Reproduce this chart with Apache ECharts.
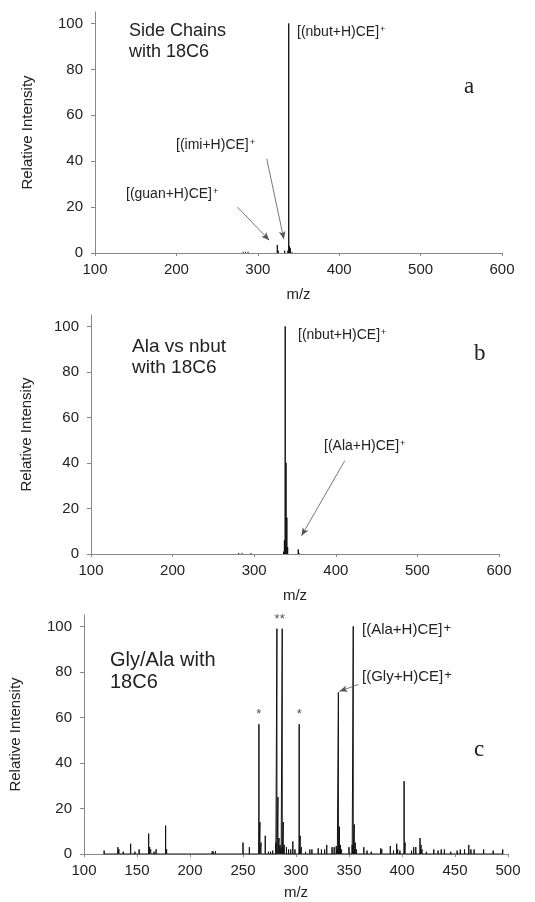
<!DOCTYPE html>
<html>
<head>
<meta charset="utf-8">
<script src="https://cdn.jsdelivr.net/npm/echarts@6/dist/echarts.min.js"></script>
<style>
  html, body { margin: 0; padding: 0; background: #fff; }
  #chart { width: 535px; height: 902px; }
</style>
</head>
<body>
<div id="chart"></div>
<script>
// peaks as [m/z, relative intensity]
const peaksA = [
  [282, 0.6], [285, 0.5], [288, 0.6], [300, 0.3], [324, 3.5], [325, 1],
  [333, 1], [337, 1], [338, 100], [339, 3], [340, 2], [342, 0.5], [350, 0.3], [370, 0.3]
];
const peaksB = [
  [281, 0.5], [285, 0.5], [296, 0.4], [336, 1], [337, 6], [338, 100],
  [339, 40], [340, 16], [341, 3], [354, 2], [355, 0.5]
];
const peaksC = [
  [119, 1.5], [132, 3], [133, 2], [137, 1], [144, 4.5], [148, 1], [152, 2],
  [161, 9], [162, 3], [163, 2], [166, 1], [168, 2], [177, 12.5], [178, 2], [184, 0.5],
  [221, 1.2], [222, 1], [224, 1.2], [250, 5], [256, 3],
  [265, 57], [266, 14], [267, 5], [271, 8], [274, 1], [276, 1], [278, 1.5],
  [281, 5], [282, 99], [283, 25], [284, 7], [285, 4], [286, 3],
  [287, 99], [288, 14], [289, 4], [291, 3], [293, 2], [295, 2], [297, 5.5], [299, 2],
  [303, 57], [304, 8], [305, 3], [309, 1], [313, 2], [315, 2],
  [321, 2.5], [324, 2], [327, 2], [329, 4], [334, 3], [336, 3], [338, 3.5], [339, 2],
  [340, 71], [341, 12], [342, 4], [343, 2], [350, 3],
  [353, 4], [354, 100], [355, 13], [356, 5], [357, 2],
  [364, 3], [367, 1.5], [371, 1], [380, 2.5], [381, 2], [389, 3.5], [392, 1.5],
  [395, 4.5], [396, 2], [398, 1.5], [402, 32], [403, 5],
  [409, 1.5], [411, 3], [413, 3], [417, 7], [418, 4], [419, 2], [423, 1],
  [430, 2], [434, 1.5], [437, 2], [440, 2], [446, 1], [452, 1.5], [455, 2],
  [459, 2], [463, 4], [465, 2], [468, 2], [477, 2], [486, 1.5], [495, 2]
];
const starredC = [[265, 57], [282, 99], [287, 99], [303, 57]];

const yTicks = [0, 20, 40, 60, 80, 100];
const xTicksAB = [100, 200, 300, 400, 500, 600];
const xTicksC = [100, 150, 200, 250, 300, 350, 400, 450, 500];

// arrows: [[from m/z, from int], [to m/z, to int]]
const arrowsA = [[[275, 20], [314, 5.6]], [[311, 41], [332, 6]]];
const arrowsB = [[[411, 41], [358, 8]]];
const arrowsC = [[[359, 74.5], [341, 71.5]]];

// each peak is a stick from the baseline; split=true leaves gaps between sticks
function sticks(peaks, split) {
  const pts = [];
  peaks.forEach(p => {
    pts.push([p[0], 0], [p[0], p[1]], [p[0], 0]);
    if (split) pts.push([p[0], '-']);
  });
  return pts;
}

const font = 'Liberation Sans';
const axisColor = '#888';
const textColor = '#222';

function xAxis(i, min, max, interval, ticks, nameGap) {
  return {
    gridIndex: i, type: 'value', min: min, max: max, interval: interval,
    name: 'm/z', nameLocation: 'middle', nameGap: nameGap,
    nameTextStyle: { fontFamily: font, fontSize: 15, color: textColor },
    axisLine: { lineStyle: { color: axisColor, width: 1 } },
    axisTick: { show: true, length: 3, lineStyle: { color: axisColor } },
    axisLabel: { fontFamily: font, fontSize: 15, color: textColor, margin: 9, customValues: ticks },
    splitLine: { show: false }
  };
}

function yAxis(i, nameGap) {
  return {
    gridIndex: i, type: 'value', min: 0, max: 105,
    name: 'Relative Intensity', nameLocation: 'middle', nameGap: nameGap,
    nameTextStyle: { fontFamily: font, fontSize: 15, color: textColor },
    axisLine: { show: true, lineStyle: { color: axisColor, width: 1 } },
    axisTick: { show: true, length: 4, lineStyle: { color: axisColor }, customValues: yTicks },
    axisLabel: { fontFamily: font, fontSize: 15, color: textColor, margin: 12, customValues: yTicks },
    splitLine: { show: false }
  };
}

function arrowLines(arrows) {
  return {
    silent: true,
    symbol: ['none', 'arrow'],
    symbolSize: [5, 8],
    lineStyle: { color: '#555', width: 0.8, type: 'solid' },
    label: { show: false },
    emphasis: { disabled: true },
    data: arrows.map(a => [{ coord: a[0] }, { coord: a[1] }])
  };
}

function spectrum(i, peaks, arrows, split) {
  return {
    type: 'line', xAxisIndex: i, yAxisIndex: i,
    data: sticks(peaks, split), symbol: 'none', animation: false,
    connectNulls: false,
    lineStyle: { color: '#111', width: 1 },
    markLine: arrowLines(arrows)
  };
}

function ion(left, top, name, size, supSize) {
  return {
    type: 'text', left: left, top: top,
    style: {
      text: '{a|' + name + '}{s|+}',
      rich: {
        a: { fontFamily: font, fontSize: size, fill: textColor },
        s: { fontFamily: font, fontSize: supSize, fill: textColor, verticalAlign: 'top', padding: [0, 0, 0, 1] }
      }
    }
  };
}

function title(left, top, text, size, lh) {
  return {
    type: 'text', left: left, top: top,
    style: { text: text, fontFamily: font, fontSize: size, lineHeight: lh, fill: textColor }
  };
}

function letter(left, top, text) {
  return {
    type: 'text', left: left, top: top,
    style: { text: text, fontFamily: 'Liberation Serif', fontSize: 23, fill: textColor }
  };
}

const option = {
  backgroundColor: '#fff',
  animation: false,
  grid: [
    { left: 95, right: 33, top: 12, height: 241 },
    { left: 91, right: 36, top: 315, height: 239 },
    { left: 84, right: 27, top: 615, height: 239 }
  ],
  xAxis: [
    xAxis(0, 100, 600, 100, xTicksAB, 34),
    xAxis(1, 100, 600, 100, xTicksAB, 34),
    xAxis(2, 100, 500, 50, xTicksC, 31)
  ],
  yAxis: [yAxis(0, 60), yAxis(1, 57), yAxis(2, 61)],
  series: [
    spectrum(0, peaksA, arrowsA, true),
    spectrum(1, peaksB, arrowsB, true),
    spectrum(2, peaksC, arrowsC, false),
    {
      type: 'scatter', xAxisIndex: 2, yAxisIndex: 2,
      data: starredC, symbolSize: 0, silent: true,
      label: { show: true, formatter: '*', position: 'top', distance: 3, fontFamily: font, fontSize: 13, color: textColor }
    }
  ],
  graphic: [
    title(129, 21, 'Side Chains\nwith 18C6', 18, 21),
    title(132, 336, 'Ala vs nbut\nwith 18C6', 19, 21),
    title(110, 649, 'Gly/Ala with\n18C6', 20, 22),
    ion(297, 25, '[(nbut+H)CE]', 14, 9),
    ion(176, 138, '[(imi+H)CE]', 14, 9),
    ion(126, 187, '[(guan+H)CE]', 14, 9),
    ion(298, 328, '[(nbut+H)CE]', 14, 9),
    ion(324, 439, '[(Ala+H)CE]', 14, 9),
    ion(362, 622, '[(Ala+H)CE]', 15, 13),
    ion(362, 669, '[(Gly+H)CE]', 15, 13),
    letter(464, 75, 'a'),
    letter(474, 342, 'b'),
    letter(474, 738, 'c')
  ]
};

const chart = echarts.init(document.getElementById('chart'));
chart.setOption(option);
</script>
</body>
</html>
